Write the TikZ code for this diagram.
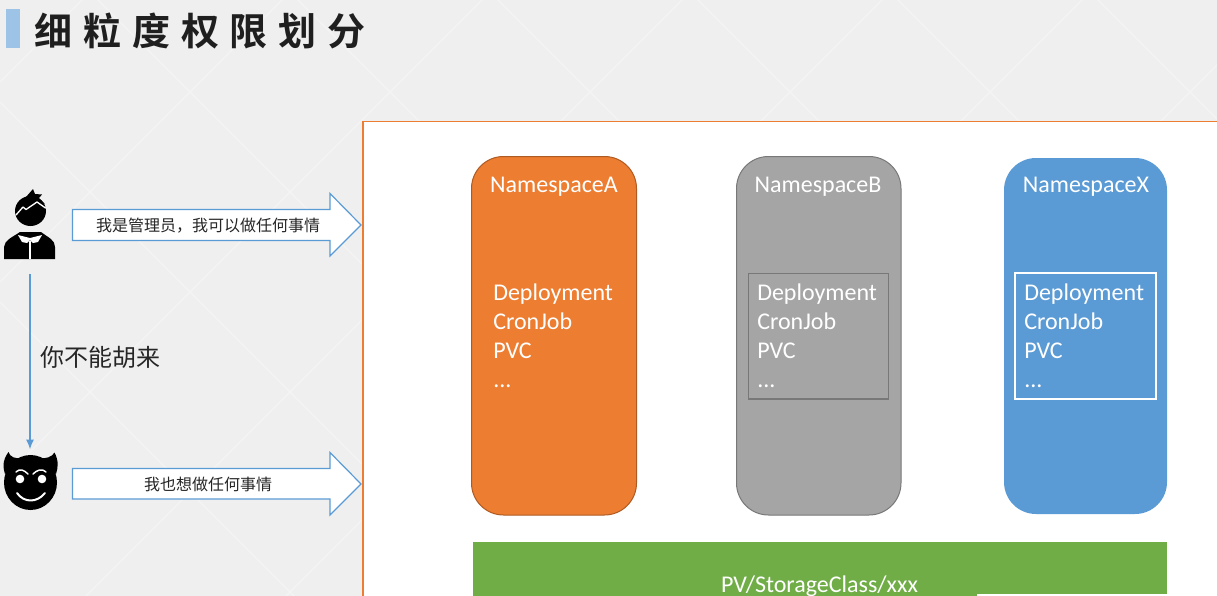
\documentclass[tikz,border=0pt]{standalone}
\usepackage{fontspec}
\setmainfont{Carlito}
\newfontfamily\cjk{Noto Sans CJK SC}
\newfontfamily\cjkb{Noto Sans CJK SC Bold}
\usetikzlibrary{arrows.meta}
\definecolor{bgc}{HTML}{EFEFEF}
\definecolor{latt}{HTML}{F4F4F4}
\definecolor{oran}{HTML}{ED7D31}
\definecolor{orand}{HTML}{AE5A21}
\definecolor{gray1}{HTML}{A5A5A5}
\definecolor{gray2}{HTML}{787878}
\definecolor{blue1}{HTML}{5B9BD5}
\definecolor{blue2}{HTML}{9DC3E6}
\definecolor{green1}{HTML}{70AD47}
\tikzset{
  x=0.75pt,y=-0.75pt,
  nsbox/.style={rounded corners=24pt,line width=0.75pt},
  nstitle/.style={text=white,font=\fontsize{18}{20}\selectfont,anchor=center,inner sep=0pt},
  nsbody/.style={text=white,font=\fontsize{18}{21.75}\selectfont,anchor=north west,inner sep=0pt,align=left},
  inner/.style={line width=1pt},
  bigarrow/.style={draw=blue1,fill=white,line width=0.9pt,line join=miter},
  arrowtext/.style={font=\cjk\fontsize{12}{14}\selectfont,text=black!85,inner sep=0pt},
  ico/.style={fill=black,draw=none},
  icow/.style={draw=white,line width=1.1pt,line cap=round,line join=round},
}
\begin{document}
\begin{tikzpicture}
\clip (0,0) rectangle (1217,596);
\useasboundingbox (0,0) rectangle (1217,596);
\fill[bgc] (0,0) rectangle (1217,596);
% lattice
\foreach \k in {-2,...,6}{
  \draw[latt,line width=0.9pt] ({\k*200+98},0) -- ({\k*200+98+596},596);
  \draw[latt,line width=0.9pt] ({\k*200+282},0) -- ({\k*200+282-596},596);
}
% title
\fill[blue2] (6,9) rectangle (20,48);
\node[anchor=west,inner sep=0pt,font=\cjkb\fontsize{28.5}{32}\selectfont,text=black!88] (title) at (34,31)
  {细\kern8.2pt粒\kern8.2pt度\kern8.2pt权\kern8.2pt限\kern8.2pt划\kern8.2pt分};
% panel
\fill[white] (363,121) rectangle (1217,596);
\draw[oran,line width=0.9pt] (363,596) -- (363,121.5) -- (1217,121.5);
% namespace A
\draw[nsbox,fill=oran,draw=orand] (471.5,156.5) rectangle (636.5,515);
\node[nstitle] (nsa) at (554,187) {NamespaceA};
\node[nsbody] (bodya) at (493,284) {Deployment\\CronJob\\PVC\\...};
% namespace B
\draw[nsbox,fill=gray1,draw=gray2] (736.5,156.5) rectangle (901,515);
\node[nstitle] (nsb) at (818,187) {NamespaceB};
\draw[inner,draw=gray2] (748.5,273.5) rectangle (888.5,399);
\node[nsbody] (bodyb) at (757,284) {Deployment\\CronJob\\PVC\\...};
% namespace X
\fill[blue1,rounded corners=24pt] (1004,158) rectangle (1167,514);
\node[nstitle] (nsx) at (1086,187) {NamespaceX};
\draw[inner,draw=white,line width=1.3pt] (1015,273) rectangle (1156,399);
\node[nsbody] (bodyx) at (1024,284) {Deployment\\CronJob\\PVC\\...};
% storage
\fill[green1] (473,542) rectangle (1167,594);
\fill[green1] (473,594) rectangle (977,596);
\node[text=white,font=\fontsize{18}{20}\selectfont,inner sep=0pt] (pv) at (819.5,586) {PV/StorageClass/xxx};
% big arrows
\draw[bigarrow] (72.5,209.5) -- (330,209.5) -- (330,193.5) -- (361,225) -- (330,256) -- (330,240.5) -- (72.5,240.5) -- cycle;
\node[arrowtext] (t1) at (208,225.5) {我是管理员，我可以做任何事情};
\draw[bigarrow] (72.5,468.5) -- (330,468.5) -- (330,452.5) -- (361,484) -- (330,515) -- (330,499) -- (72.5,499) -- cycle;
\node[arrowtext] (t2) at (208,484.5) {我也想做任何事情};
% icon anchors
\node[minimum width=40pt,minimum height=52pt,inner sep=0pt] (person) at (30,225) {};
\node[minimum width=40pt,minimum height=46pt,inner sep=0pt] (devil) at (30,480) {};
\draw[blue1,line width=0.9pt,-{Latex[length=7pt,width=6pt]},shorten <=10.5pt] (person.south) -- (devil.north);
\node[font=\cjk\fontsize{18}{20}\selectfont,text=black!85,inner sep=0pt] (lbl) at (100,357.5) {你不能胡来};
% person icon
\fill[ico] (30.5,211) ellipse (15.5 and 15);
\fill[ico] (26,197) -- (33,189) -- (35,194) -- (42,194.5) -- (39,198) -- (45,204) -- cycle;
\draw[icow,line width=1pt] (16,215) -- (23,207) -- (26,209.5) -- (37,202) -- (45.5,208);
\fill[ico] (4,259) -- (4,247) .. controls (5,240) and (11,238) .. (20,232) -- (41,232) .. controls (49,238) and (55,240) .. (55,247) -- (55,259) -- cycle;
\draw[white,line width=0.9pt] (30,241) -- (30,259);
\fill[white] (18,235) -- (30,238) -- (42,235) -- (38,242) -- (33,243) -- (30,240) -- (27,243) -- (22,242) -- cycle;
% devil icon
\fill[ico] (8.5,452) .. controls (2,461) and (3,468) .. (5,474) -- (22,458) .. controls (15,459) and (10,457) .. (8.5,452) -- cycle;
\fill[ico] (54.5,452.5) .. controls (59,461) and (58,468) .. (56,474) -- (39,458) .. controls (46,459) and (52,457) .. (54.5,452.5) -- cycle;
\fill[ico] (30.5,482.5) ellipse (26.5 and 27.5);
\fill[white] (20,479) circle (4.3);
\fill[white] (42,479) circle (4.3);
\draw[icow] (16,472) .. controls (20,468) and (24,470) .. (28,474);
\draw[icow] (46,472) .. controls (42,468) and (37,470) .. (33,474);
\draw[icow,line width=1.5pt] (17,493) .. controls (24,503) and (37,503) .. (45,493);
\end{tikzpicture}
\end{document}
